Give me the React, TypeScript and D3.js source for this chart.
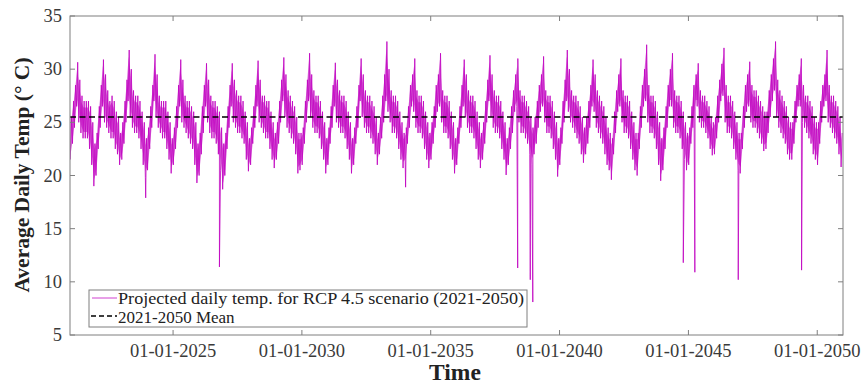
import React from "react";
import * as d3 from "d3";

// ---- data (monthly low / high envelope of daily temps, °C) ----
const yearList = [2021, 2022, 2023, 2024, 2025, 2026, 2027, 2028, 2029, 2030,
  2031, 2032, 2033, 2034, 2035, 2036, 2037, 2038, 2039, 2040,
  2041, 2042, 2043, 2044, 2045, 2046, 2047, 2048, 2049, 2050];

const monthlyLow: number[][] = [
  [21.5, 23, 24.5, 26.5, 25, 24, 23.5, 23.5, 23.5, 22.5, 21, 19.0],
  [20, 22.5, 24.5, 26.5, 25, 24.5, 24, 23.5, 23.5, 22.5, 22, 21.0],
  [21.5, 23, 25, 27, 25.5, 24.5, 24, 24, 23.5, 22.5, 21, 19.8],
  [20.5, 22.5, 24.5, 27, 25.5, 24.5, 24, 23.5, 23.5, 22.5, 21.5, 20.2],
  [21, 22.5, 24.5, 26.5, 25, 24.5, 24, 23.5, 23, 22.5, 21, 19.3],
  [20, 22, 24, 26.5, 25, 24, 23.5, 23.5, 23, 22, 20.5, 18.7],
  [20, 22.5, 24.5, 26.5, 25, 24.5, 24, 24, 23.5, 23, 21.5, 20.4],
  [21, 23, 24.5, 26.5, 25, 24.5, 24, 23.5, 23.5, 22.5, 21.5, 20.7],
  [21.5, 23, 25, 27, 25.5, 24.5, 24, 23.5, 23, 22, 20.2, 20.5],
  [21, 23, 25, 27, 25.5, 24.5, 24, 24, 23.5, 22.5, 21.5, 20.2],
  [21, 23, 24.5, 26.5, 25, 24.5, 24, 24, 23.5, 22.5, 21.5, 20.2],
  [21, 23, 24.5, 27, 25.5, 24.5, 24, 24, 23.5, 23, 22, 21.0],
  [22, 23.5, 25, 27, 26, 25, 24, 24, 23.5, 22.5, 21.5, 20.7],
  [21, 23, 24.5, 26.5, 26, 24.5, 24, 24, 23.5, 22.5, 21.5, 20.7],
  [21.5, 23, 24.5, 26, 26.5, 25, 24, 24, 23.5, 22.5, 21.5, 20.2],
  [21, 23, 24.5, 26.5, 25.5, 24.5, 24, 24, 23.5, 22.5, 21.5, 20.7],
  [21.5, 23, 25, 27, 25.5, 24.5, 24, 24, 23.5, 22.5, 21.5, 20.05],
  [21, 22.5, 24, 26, 26.5, 25, 24, 24, 23.5, 23, 22, 21.0],
  [22, 23, 24.5, 26, 26.5, 25, 24, 24, 23.5, 22.5, 21.5, 19.9],
  [21, 23, 25, 27, 26, 25, 24.5, 24, 23.5, 23, 22, 21.2],
  [22, 23, 24.5, 26.5, 26, 24.5, 24, 23.5, 23, 22, 21, 20.5],
  [19.6, 22, 24, 26, 26.5, 25, 24, 24, 23.5, 22.5, 21.5, 20.5],
  [20, 22.5, 24.5, 26.5, 27, 25, 24, 24, 23.5, 22.5, 21, 19.5],
  [20.5, 22.5, 24.5, 26.5, 26.5, 24.5, 24, 24, 23.5, 22.5, 21.5, 20.5],
  [21, 23, 24.5, 26.5, 26.5, 25, 24.5, 24.5, 24, 23.5, 22.5, 21.9],
  [22, 23.5, 25, 27, 27.5, 25, 24, 24, 23.5, 22.5, 21.5, 20.5],
  [20.2, 22.5, 24.5, 26, 26.5, 25, 24.5, 24.5, 24, 23.5, 23, 22.3],
  [22.5, 24, 25.5, 27, 28, 25.5, 24.5, 24, 23.5, 23, 22, 21.5],
  [21.5, 23, 25, 26.5, 26.5, 25, 24.5, 24, 23.5, 23, 22, 21.5],
  [21, 23, 25, 26.5, 27, 25, 24.5, 24, 23.5, 23, 22, 20.8],
];

const monthlyHigh: number[][] = [
  [25.5, 27, 28.5, 30.65, 29, 27.5, 27, 27, 27, 26.5, 25, 23],
  [24, 26.5, 28.5, 30.9, 29.5, 28, 27, 27.5, 27, 26, 25.5, 24],
  [25, 27, 29, 31.8, 30, 28, 27.5, 27.5, 27, 26, 25, 23.5],
  [24.5, 26.5, 28.5, 31.4, 29.5, 27.5, 27, 27, 27, 26, 25, 23.5],
  [24.5, 26.5, 28.5, 30.9, 29, 27.5, 27, 27, 26.5, 26, 25, 23],
  [24, 26.5, 28.5, 30.55, 29, 27.5, 27, 27, 26.5, 26, 24.5, 23],
  [24, 26.5, 28.5, 30.55, 29, 28, 27.5, 27.5, 27, 26, 25, 23.5],
  [24.5, 26.5, 28.5, 30.8, 29, 27.5, 27.5, 27, 27, 26, 25, 24],
  [25, 27, 29, 31.1, 29.5, 28, 27.5, 27, 26.5, 25.5, 24, 24],
  [24.5, 27, 29, 31.5, 29.5, 28, 27.5, 27.5, 27, 26, 25, 23.5],
  [24.5, 26.5, 28.5, 30.6, 29, 28, 27.5, 27.5, 27, 26, 25, 23.5],
  [24.5, 26.5, 28.5, 31.0, 29.5, 28, 27.5, 27.5, 27, 26.5, 25.5, 24],
  [25.5, 27.5, 29.5, 32.6, 30, 28, 27.5, 27.5, 27, 26, 25, 24],
  [24.5, 26.5, 28.5, 29.5, 31.0, 28, 27.5, 27.5, 27, 26, 25, 24],
  [25, 26.5, 28.5, 29.5, 31.5, 28, 27.5, 27.5, 27, 26, 25, 23.5],
  [24.5, 26.5, 28.5, 30.9, 29.5, 28, 27.5, 27.5, 27, 26, 25, 24],
  [25, 27, 29, 31.3, 29.5, 28, 27.5, 27.5, 27, 26, 25, 23.5],
  [24.5, 26.5, 28, 29.5, 31.0, 28, 27.5, 27.5, 27, 26.5, 25.5, 24.5],
  [25.5, 27, 28.5, 29.5, 31.2, 28, 27.5, 27.5, 27, 26, 25, 23.5],
  [24.5, 27, 29, 31.8, 30, 28, 27.5, 27.5, 27, 26.5, 25.5, 24.5],
  [25.5, 27, 28.5, 30.9, 29.5, 28, 27.5, 27, 26.5, 25.5, 24.5, 24],
  [23.5, 26, 28, 29.5, 31.0, 28, 27.5, 27.5, 27, 26, 25, 24],
  [24, 26.5, 28.5, 30, 32.3, 28.5, 27.5, 27.5, 27, 26, 25, 23.5],
  [24.5, 26.5, 28.5, 30, 31.5, 28, 27.5, 27.5, 27, 26, 25, 24],
  [24.5, 26.5, 28.5, 29.5, 30.55, 28, 27.5, 27.5, 27, 26.5, 25.5, 25],
  [25.5, 27.5, 29, 30.5, 32.0, 28.5, 27.5, 27.5, 27, 26, 25, 24],
  [24, 26.5, 28.5, 29.5, 30.7, 28.5, 28, 28, 27.5, 27, 26.5, 26],
  [26, 28, 29.5, 31, 32.6, 29, 28, 27.5, 27, 26.5, 25.5, 25],
  [25, 27, 28.5, 29.5, 31.0, 28.5, 27.5, 27.5, 27, 26.5, 25.5, 25],
  [25, 27, 28.5, 29.5, 31.8, 28.5, 27.5, 27.5, 27, 26.5, 25.5, 24],
];

// isolated single-day drops
const spikeDates = ["2023-12-10", "2026-10-20", "2034-01-10", "2038-05-18", "2038-11-12",
  "2038-12-18", "2044-10-20", "2045-04-02", "2046-12-08", "2049-05-24"];
const spikeValues = [17.9, 11.4, 18.9, 11.3, 10.2, 8.1, 11.8, 10.9, 10.2, 11.1];

const meanValue = 25.5;
const yTicks = [5, 10, 15, 20, 25, 30, 35];
const xTickYears = [2025, 2030, 2035, 2040, 2045, 2050];

const seriesLabel = "Projected daily temp. for RCP 4.5 scenario (2021-2050)";
const meanLabel = "2021-2050 Mean";

// ---- layout ----
const W = 865, H = 386;
const L = 70, R = 843, T = 16, B = 335;
const SERIF = '"Liberation Serif", "Times New Roman", serif';
const MAG = "#c000c0";
const AXIS = "#7f7f7f";

type Pt = { date: Date; v: number };
type Band = { date: Date; lo: number; hi: number };

export default function App() {
  const x = d3.scaleTime().domain([new Date(2021, 0, 1), new Date(2051, 0, 1)]).range([L, R]);
  const y = d3.scaleLinear().domain([5, 35]).range([B, T]);

  const pts: Pt[] = [];
  const band: Band[] = [];
  yearList.forEach((yr, i) => {
    for (let m = 0; m < 12; m++) {
      pts.push({ date: new Date(yr, m, 5), v: monthlyLow[i][m] });
      pts.push({ date: new Date(yr, m, 20), v: monthlyHigh[i][m] });
      band.push({ date: new Date(yr, m, 12), lo: monthlyLow[i][m], hi: monthlyHigh[i][m] });
    }
  });
  spikeDates.forEach((s, i) => {
    const [yy, mm, dd] = s.split("-").map(Number);
    pts.push({ date: new Date(yy, mm - 1, dd), v: spikeValues[i] });
  });
  pts.sort((a, b) => a.date.getTime() - b.date.getTime());

  const line = d3.line<Pt>().x((d) => x(d.date)).y((d) => y(d.v));
  const path = line(pts) || "";
  const area = d3.area<Band>().x((d) => x(d.date)).y0((d) => y(d.lo + 0.6)).y1((d) => y(d.hi - 0.6));
  const areaPath = area(band) || "";

  const tickLen = 5;

  return (
    <svg width={W} height={H} style={{ position: "absolute", left: 0, top: 0, background: "#fff" }}
      xmlns="http://www.w3.org/2000/svg">
      <defs>
        <clipPath id="plotclip">
          <rect x={L} y={T} width={R - L} height={B - T} />
        </clipPath>
      </defs>
      <rect x={0} y={0} width={W} height={H} fill="#fff" />

      {/* data */}
      <g clipPath="url(#plotclip)">
        <path d={areaPath} fill={MAG} fillOpacity={0.55} stroke="none" />
        <path d={path} fill="none" stroke={MAG} strokeWidth={0.9} strokeOpacity={0.9} />
      </g>
      {/* mean */}
      <line x1={L} x2={R} y1={y(meanValue)} y2={y(meanValue)} stroke="#000" strokeWidth={1.5}
        strokeDasharray="6,3.5" />

      {/* frame */}
      <rect x={L} y={T} width={R - L} height={B - T} fill="none" stroke={AXIS} strokeWidth={1} />

      {/* y ticks */}
      {yTicks.map((t) => (
        <g key={"y" + t}>
          <line x1={L} x2={L + tickLen} y1={y(t)} y2={y(t)} stroke={AXIS} />
          <line x1={R} x2={R - tickLen} y1={y(t)} y2={y(t)} stroke={AXIS} />
          <text x={L - 8} y={y(t) + 6} textAnchor="end" fontFamily={SERIF} fontSize={18.5} fill="#3a3a3a">
            {t}
          </text>
        </g>
      ))}

      {/* x ticks */}
      {xTickYears.map((yr) => {
        const xv = x(new Date(yr, 0, 1));
        return (
          <g key={"x" + yr}>
            <line x1={xv} x2={xv} y1={B} y2={B - tickLen} stroke={AXIS} />
            <line x1={xv} x2={xv} y1={T} y2={T + tickLen} stroke={AXIS} />
            <text x={xv} y={357} textAnchor="middle" fontFamily={SERIF} fontSize={18.5} fill="#3a3a3a">
              {d3.timeFormat("%d-%m-%Y")(new Date(yr, 0, 1))}
            </text>
          </g>
        );
      })}

      {/* axis titles */}
      <text x={455} y={380} textAnchor="middle" fontFamily={SERIF} fontWeight="bold" fontSize={23.5} fill="#222">
        Time
      </text>
      <text transform={`translate(29,175) rotate(-90)`} textAnchor="middle" fontFamily={SERIF}
        fontWeight="bold" fontSize={21.5} fill="#222">
        Average Daily Temp (° C)
      </text>

      {/* legend */}
      <rect x={89} y={290} width={438} height={37} fill="#fff" stroke={AXIS} strokeWidth={1} />
      <line x1={92} x2={117} y1={298} y2={298} stroke={MAG} strokeWidth={0.75} />
      <text x={118} y={303.5} fontFamily={SERIF} fontSize={17} fill="#222" textLength={406}
        lengthAdjust="spacingAndGlyphs">{seriesLabel}</text>
      <line x1={91} x2={117} y1={316} y2={316} stroke="#000" strokeWidth={1.3} strokeDasharray="5,3" />
      <text x={118} y={322.5} fontFamily={SERIF} fontSize={17} fill="#222">{meanLabel}</text>
    </svg>
  );
}
